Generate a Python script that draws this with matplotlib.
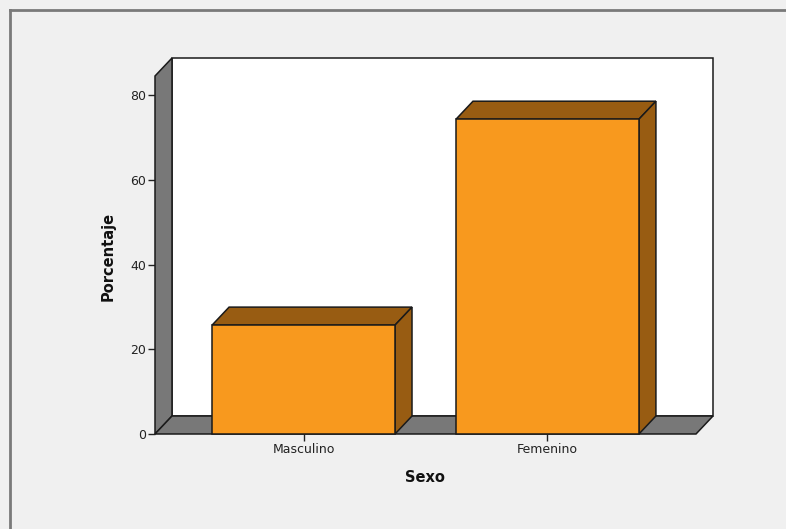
import matplotlib.pyplot as plt
from matplotlib.patches import Polygon
from matplotlib.lines import Line2D

categorias = ["Masculino", "Femenino"]
porcentajes = [25.7, 74.3]
yticks = [0, 20, 40, 60, 80]

frente = "#F8991E"
oscuro = "#985C12"
gris = "#787878"
borde = "#1a1a1a"

W, H = 786, 529
fig = plt.figure(figsize=(W / 100, H / 100), dpi=100)
fig.patch.set_facecolor("#F0F0F0")

# marco exterior (solo arriba e izquierda)
fig.add_artist(Line2D([10 / W, 10 / W], [0, 1 - 10 / H], color="#7a7a7a", lw=2))
fig.add_artist(Line2D([10 / W, 1], [1 - 10 / H, 1 - 10 / H], color="#7a7a7a", lw=2))

ax = fig.add_axes([155 / W, (H - 434) / H, 541 / W, (434 - 76) / H])
ax.set_xlim(-0.609, 1.609)
ax.set_ylim(0, 84.5)
ax.patch.set_visible(False)
for s in ax.spines.values():
    s.set_visible(False)

x0, x1 = ax.get_xlim()
y0, y1 = ax.get_ylim()
dx = 17 / 541 * (x1 - x0)
dy = 18 / 358 * (y1 - y0)


def poly(pts, color, z):
    ax.add_patch(Polygon(pts, closed=True, facecolor=color, edgecolor=borde,
                         lw=1.1, joinstyle="miter", clip_on=False, zorder=z))


# pared del fondo, pared izquierda y suelo
poly([(x0 + dx, y0 + dy), (x1 + dx, y0 + dy), (x1 + dx, y1 + dy), (x0 + dx, y1 + dy)], "white", 1)
poly([(x0, y0), (x0 + dx, y0 + dy), (x0 + dx, y1 + dy), (x0, y1)], gris, 2)
poly([(x0, y0), (x0 + dx, y0 + dy), (x1 + dx, y0 + dy), (x1, y0)], gris, 2)

ancho = 0.75
for i, v in enumerate(porcentajes):
    l, r = i - ancho / 2, i + ancho / 2
    poly([(l, v), (l + dx, v + dy), (r + dx, v + dy), (r, v)], oscuro, 3)
    poly([(r, 0), (r + dx, dy), (r + dx, v + dy), (r, v)], oscuro, 3)
    poly([(l, 0), (r, 0), (r, v), (l, v)], frente, 4)

ax.set_xticks(range(len(categorias)))
ax.set_xticklabels(categorias)
ax.set_yticks(yticks)
ax.tick_params(axis="both", direction="out", length=5, width=1, color="#222222",
               labelsize=9, labelcolor="#222222", pad=1.5)

fig.text(425 / W, 1 - 477 / H, "Sexo", ha="center", va="center",
         fontsize=10.5, fontweight="bold", color="#111111")
fig.text(108 / W, 1 - 256 / H, "Porcentaje", ha="center", va="center",
         rotation=90, fontsize=10.5, fontweight="bold", color="#111111")

fig.savefig("out.png", dpi=100, facecolor=fig.get_facecolor())
